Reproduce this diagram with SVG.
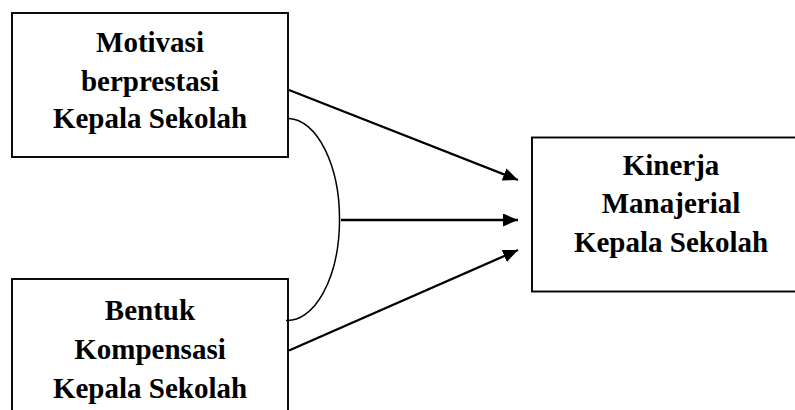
<svg xmlns="http://www.w3.org/2000/svg" width="795" height="410" viewBox="0 0 795 410">
  <style>
    .box { fill: #ffffff; stroke: #000000; stroke-width: 1.9; }
    .lbl { font-family: "Liberation Serif", "Times New Roman", serif; font-weight: bold; font-size: 29px; fill: #000000; text-anchor: middle; }
    .arrow { fill: none; stroke: #000000; stroke-width: 2.3; }
    .curve { fill: none; stroke: #000000; stroke-width: 1.5; }
  </style>
  <defs>
    <marker id="head" markerUnits="userSpaceOnUse" markerWidth="16" markerHeight="14" refX="15" refY="6.5" orient="auto">
      <path d="M0,0 L15,6.5 L0,13 z" fill="#000000"/>
    </marker>
  </defs>
  <rect width="795" height="410" fill="#ffffff"/>

  <g id="motivasi">
    <rect class="box" x="12" y="13" width="276" height="144"/>
    <text class="lbl" x="150" y="52">Motivasi</text>
    <text class="lbl" x="150" y="90.5">berprestasi</text>
    <text class="lbl" x="150" y="128">Kepala Sekolah</text>
  </g>

  <g id="kompensasi">
    <rect class="box" x="12" y="279" width="276" height="160"/>
    <text class="lbl" x="150" y="320">Bentuk</text>
    <text class="lbl" x="150" y="359">Kompensasi</text>
    <text class="lbl" x="150" y="398">Kepala Sekolah</text>
  </g>

  <g id="kinerja">
    <rect class="box" x="532" y="137.5" width="290" height="154"/>
    <text class="lbl" x="671" y="175">Kinerja</text>
    <text class="lbl" x="671" y="213">Manajerial</text>
    <text class="lbl" x="671" y="251.5">Kepala Sekolah</text>
  </g>

  <g id="connectors">
    <path class="curve" d="M289,118.5 A52,101 0 0 1 286,320.5"/>
    <line class="arrow" x1="289" y1="90" x2="518" y2="180" marker-end="url(#head)"/>
    <line class="arrow" x1="341" y1="220" x2="518" y2="220" marker-end="url(#head)"/>
    <line class="arrow" x1="289" y1="350.5" x2="518" y2="250" marker-end="url(#head)"/>
  </g>
</svg>
